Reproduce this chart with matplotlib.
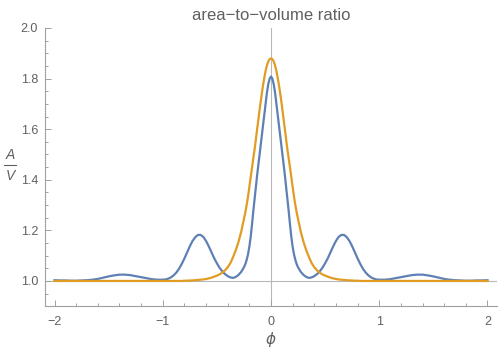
import numpy as np
import matplotlib
matplotlib.use("Agg")
import matplotlib.pyplot as plt
from matplotlib.ticker import MultipleLocator
from matplotlib.lines import Line2D

title = "area\u2212to\u2212volume ratio"
x_label = "ϕ"
x_ticks = [-2, -1, 0, 1, 2]
x_tick_labels = ["\u22122", "\u22121", "0", "1", "2"]
y_ticks = [1.0, 1.2, 1.4, 1.6, 1.8, 2.0]

phi = [-2.0, -1.95, -1.9, -1.85, -1.8, -1.75, -1.7, -1.65, -1.6, -1.55, -1.5,
       -1.45, -1.4, -1.35, -1.3, -1.25, -1.2, -1.15, -1.1, -1.05, -1.0,
       -0.975, -0.95, -0.925, -0.9, -0.875, -0.85, -0.825, -0.8, -0.775, -0.75,
       -0.725, -0.7, -0.675, -0.65, -0.625, -0.6, -0.575, -0.55, -0.525, -0.5,
       -0.475, -0.45, -0.425, -0.4, -0.375, -0.35, -0.325, -0.3, -0.275, -0.25,
       -0.2375, -0.225, -0.2125, -0.2, -0.1875, -0.175, -0.1625, -0.15, -0.1375,
       -0.125, -0.1125, -0.1, -0.0875, -0.075, -0.0625, -0.05, -0.0375, -0.025,
       -0.0125,
       0.0,
       0.0125, 0.025, 0.0375, 0.05, 0.0625, 0.075, 0.0875, 0.1, 0.1125, 0.125,
       0.1375, 0.15, 0.1625, 0.175, 0.1875, 0.2, 0.2125, 0.225, 0.2375, 0.25,
       0.275, 0.3, 0.325, 0.35, 0.375, 0.4, 0.425, 0.45, 0.475, 0.5,
       0.525, 0.55, 0.575, 0.6, 0.625, 0.65, 0.675, 0.7, 0.725, 0.75,
       0.775, 0.8, 0.825, 0.85, 0.875, 0.9, 0.925, 0.95, 0.975, 1.0,
       1.05, 1.1, 1.15, 1.2, 1.25, 1.3, 1.35, 1.4, 1.45, 1.5,
       1.55, 1.6, 1.65, 1.7, 1.75, 1.8, 1.85, 1.9, 1.95, 2.0]

blue = [1.003, 1.002, 1.002, 1.001, 1.001, 1.002, 1.003, 1.005, 1.008, 1.013, 1.018,
        1.022, 1.025, 1.025, 1.023, 1.019, 1.015, 1.011, 1.007, 1.005, 1.005,
        1.006, 1.009, 1.014, 1.022, 1.033, 1.048, 1.067, 1.089, 1.113, 1.137,
        1.158, 1.173, 1.182, 1.182, 1.174, 1.158, 1.137, 1.114, 1.090, 1.070,
        1.052, 1.038, 1.027, 1.019, 1.014, 1.012, 1.016, 1.024, 1.036, 1.054,
        1.066, 1.083, 1.105, 1.135, 1.175, 1.225, 1.280, 1.330, 1.380,
        1.430, 1.475, 1.520, 1.565, 1.610, 1.655, 1.700, 1.745, 1.778,
        1.800,
        1.808,
        1.800, 1.778, 1.745, 1.700, 1.655, 1.610, 1.565, 1.520, 1.475, 1.430,
        1.380, 1.330, 1.280, 1.225, 1.175, 1.135, 1.105, 1.083, 1.066, 1.054,
        1.036, 1.024, 1.016, 1.012, 1.014, 1.019, 1.027, 1.038, 1.052, 1.070,
        1.090, 1.114, 1.137, 1.158, 1.174, 1.182, 1.182, 1.173, 1.158, 1.137,
        1.113, 1.089, 1.067, 1.048, 1.033, 1.022, 1.014, 1.009, 1.006, 1.005,
        1.005, 1.007, 1.011, 1.015, 1.019, 1.023, 1.025, 1.025, 1.022, 1.018,
        1.013, 1.008, 1.005, 1.003, 1.002, 1.001, 1.001, 1.002, 1.002, 1.003]

orange = [1.0, 1.0, 1.0, 1.0, 1.0, 1.0, 1.0, 1.0, 1.0, 1.0, 1.0,
          1.0, 1.0, 1.0, 1.0, 1.0, 1.0, 1.0, 1.0, 1.0, 1.0,
          1.0, 1.0, 1.0, 1.0, 1.0, 1.0, 1.0, 1.001, 1.001, 1.002,
          1.002, 1.003, 1.004, 1.005, 1.006, 1.008, 1.010, 1.013, 1.017, 1.021,
          1.026, 1.033, 1.042, 1.054, 1.071, 1.095, 1.122, 1.155, 1.195, 1.245,
          1.270, 1.300, 1.333, 1.370, 1.410, 1.450, 1.488, 1.525, 1.568,
          1.610, 1.652, 1.695, 1.734, 1.770, 1.802, 1.830, 1.852, 1.868,
          1.877,
          1.880,
          1.877, 1.868, 1.852, 1.830, 1.802, 1.770, 1.734, 1.695, 1.652, 1.610,
          1.568, 1.525, 1.488, 1.450, 1.410, 1.370, 1.333, 1.300, 1.270, 1.245,
          1.195, 1.155, 1.122, 1.095, 1.071, 1.054, 1.042, 1.033, 1.026, 1.021,
          1.017, 1.013, 1.010, 1.008, 1.006, 1.005, 1.004, 1.003, 1.002, 1.002,
          1.001, 1.001, 1.0, 1.0, 1.0, 1.0, 1.0, 1.0, 1.0, 1.0,
          1.0, 1.0, 1.0, 1.0, 1.0, 1.0, 1.0, 1.0, 1.0, 1.0,
          1.0, 1.0, 1.0, 1.0, 1.0, 1.0, 1.0, 1.0, 1.0, 1.0]

W, H = 498, 351
fig = plt.figure(figsize=(W / 100, H / 100), dpi=100)
ax = fig.add_axes([45 / W, (H - 306) / H, 452 / W, (306 - 28) / H])

gray_axis = "#a0a0a0"
gray_text = "#606060"
font = "Liberation Sans"

ax.axhline(1.0, color="#b8b8b8", lw=0.8, zorder=1)
ax.axvline(0.0, color="#b8b8b8", lw=0.8, zorder=1)

ax.plot(phi, blue, color="#5E81B5", lw=1.6, zorder=3)
ax.plot(phi, orange, color="#E19C24", lw=1.6, zorder=4)

ax.set_xlim(-2.088, 2.088)
ax.set_ylim(0.901, 2.0)

for s in ["top", "right"]:
    ax.spines[s].set_visible(False)
for s in ["left", "bottom"]:
    ax.spines[s].set_color(gray_axis)
    ax.spines[s].set_linewidth(0.8)

ax.set_xticks(x_ticks)
ax.set_xticklabels(x_tick_labels)
ax.set_yticks(y_ticks)
ax.set_yticklabels([f"{v:.1f}" for v in y_ticks])
ax.xaxis.set_minor_locator(MultipleLocator(0.2))
ax.yaxis.set_minor_locator(MultipleLocator(0.05))
ax.tick_params(which="both", direction="in", color=gray_axis, width=0.7,
               labelcolor=gray_text, labelsize=9)
ax.tick_params(which="major", length=4)
ax.tick_params(axis="x", which="major", pad=7)
ax.tick_params(axis="y", which="major", pad=5)
ax.tick_params(which="minor", length=2.5)
for lab in ax.get_xticklabels() + ax.get_yticklabels():
    lab.set_fontfamily(font)

ax.set_title(title, fontsize=12, color=gray_text, fontfamily=font, pad=6)
ax.set_xlabel(x_label, fontsize=11, color=gray_text, fontstyle="italic",
              fontfamily="DejaVu Sans", labelpad=3)

# A/V stacked fraction label
fig.text(10 / W, 1 - 155 / H, "A", fontsize=10, color=gray_text, style="italic",
         fontfamily=font, ha="center", va="center")
fig.text(10 / W, 1 - 176 / H, "V", fontsize=10, color=gray_text, style="italic",
         fontfamily=font, ha="center", va="center")
fig.add_artist(Line2D([4 / W, 16 / W], [1 - 165 / H, 1 - 165 / H],
                      color=gray_text, lw=0.8, transform=fig.transFigure))

fig.savefig("out.png", dpi=100, facecolor="white")
